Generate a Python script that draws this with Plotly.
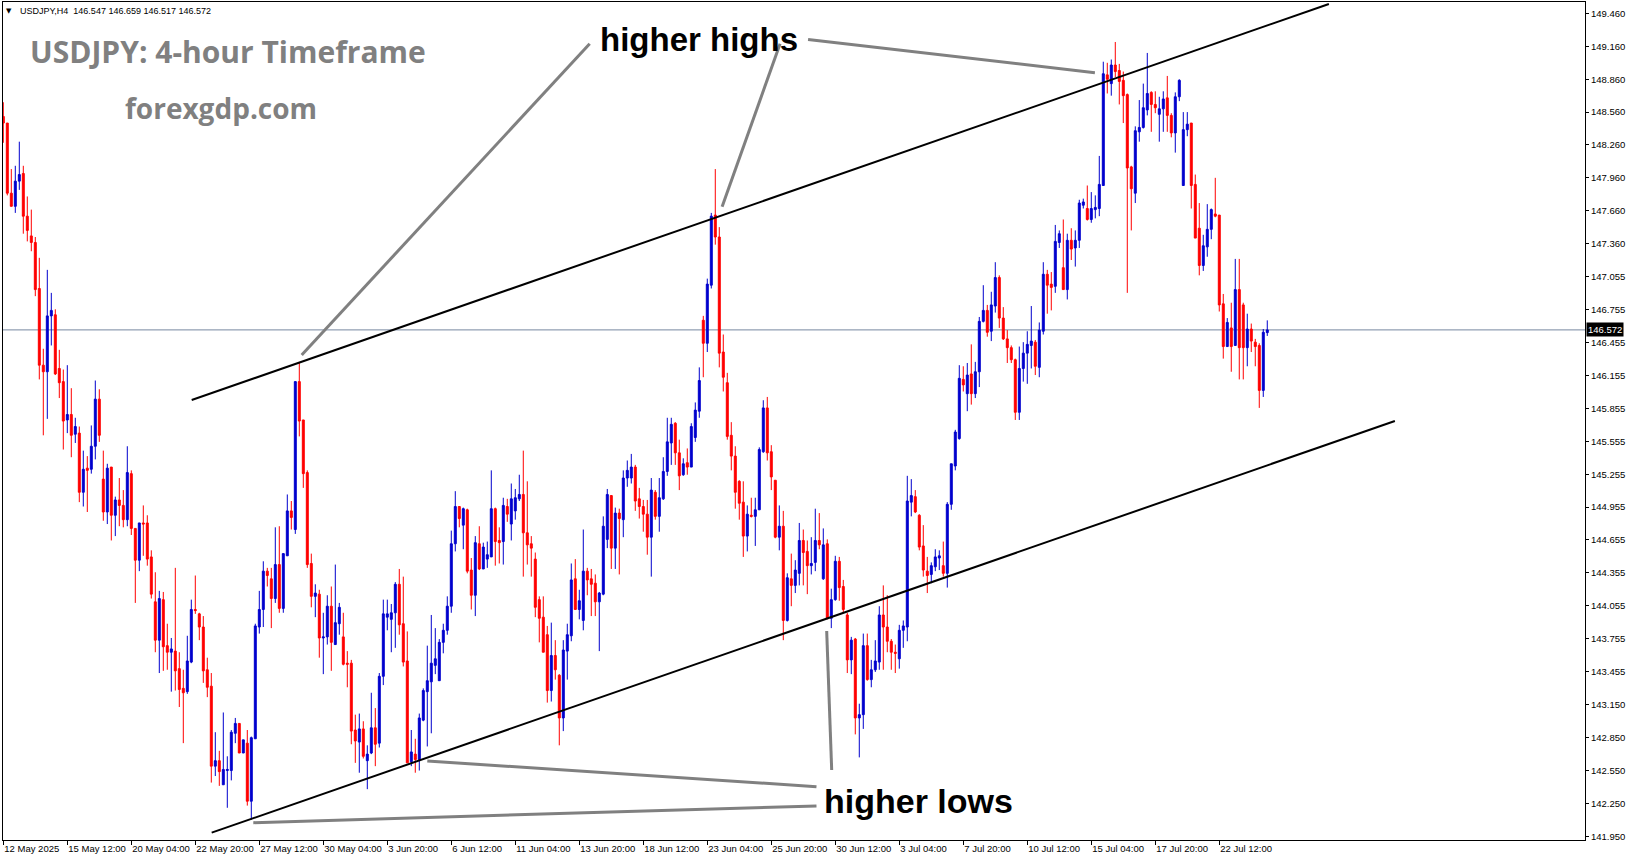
import plotly.graph_objects as go

# ---------------- data (USDJPY H4) ----------------
opens = [
    148.52, 148.46, 147.82, 147.70, 147.93, 148.00, 147.61, 147.43, 147.37, 146.95,
    146.25, 146.19, 146.70, 146.71, 146.22, 146.10, 145.75, 145.80, 145.62, 145.63,
    145.09, 145.31, 145.30, 145.51, 145.94, 145.21, 144.91, 145.32, 144.88, 145.02,
    144.97, 144.84, 145.26, 144.76, 144.47, 144.81, 144.81, 144.50, 144.09, 143.74,
    144.11, 143.69, 143.63, 143.64, 143.48, 143.30, 143.27, 143.54, 144.02, 143.98,
    143.86, 143.47, 143.32, 142.59, 142.64, 142.42, 142.55, 142.55, 142.89, 142.98,
    142.71, 142.80, 142.27, 142.84, 143.86, 144.02, 144.37, 144.30, 144.12, 144.43,
    144.03, 144.51, 144.92, 144.75, 146.10, 145.75, 145.27, 144.44, 144.14, 144.16,
    143.76, 143.77, 144.05, 143.70, 143.89, 143.77, 143.53, 143.53, 142.92, 142.81,
    142.93, 142.64, 142.71, 142.94, 142.80, 143.41, 143.95, 143.93, 143.99, 144.25,
    143.89, 143.55, 142.63, 142.70, 142.65, 143.01, 143.27, 143.36, 143.51, 143.37,
    143.72, 143.83, 144.05, 144.62, 144.96, 144.79, 144.93, 144.38, 144.15, 144.62,
    144.39, 144.48, 144.50, 144.94, 144.65, 144.64, 144.96, 144.80, 144.92, 145.03,
    145.07, 144.72, 144.62, 144.48, 144.11, 143.95, 143.79, 143.28, 143.60, 143.42,
    143.03, 143.64, 143.78, 144.30, 144.02, 143.92, 144.37, 144.30, 144.26, 144.09,
    144.16, 144.66, 145.06, 144.58, 144.90, 144.84, 145.22, 145.22, 145.32, 145.03,
    144.96, 144.89, 144.68, 145.09, 144.87, 145.03, 145.28, 145.54, 145.72, 145.45,
    145.25, 145.36, 145.32, 145.59, 145.83, 146.66, 146.45, 146.98, 147.62, 147.42,
    146.37, 146.09, 145.61, 145.42, 145.19, 145.00, 144.69, 144.88, 144.87, 144.93,
    145.46, 145.86, 145.46, 145.20, 144.68, 144.78, 143.92, 144.30, 144.24, 144.35,
    144.65, 144.55, 144.42, 144.45, 144.65, 144.30, 144.62, 143.94, 144.11, 144.46,
    144.23, 143.97, 143.56, 143.75, 143.03, 143.06, 143.69, 143.38, 143.47, 143.54,
    143.97, 143.86, 143.73, 143.63, 143.57, 143.83, 143.86, 145.00, 145.05, 144.88,
    144.60, 144.37, 144.34, 144.41, 144.49, 144.42, 144.35, 144.98, 145.33, 145.58,
    146.12, 145.99, 146.17, 145.99, 146.19, 146.65, 146.75, 146.56, 146.79, 147.05,
    146.68, 146.49, 146.41, 146.30, 145.82, 146.22, 146.36, 146.43, 146.46, 146.23,
    146.56, 147.08, 146.99, 146.97, 147.37, 147.14, 146.94, 147.39, 147.32, 147.39,
    147.71, 147.68, 147.58, 147.67, 147.68, 147.89, 148.90, 148.82, 148.99, 148.94,
    148.85, 148.72, 148.06, 147.82, 148.38, 148.42, 148.58, 148.74, 148.63, 148.54,
    148.59, 148.69, 148.53, 148.37, 148.70, 147.89, 148.40, 148.46, 147.90, 147.50,
    147.16, 147.33, 147.49, 147.63, 147.62, 146.81, 146.42, 146.59, 146.43, 146.94,
    146.80, 146.41, 146.58, 146.46, 146.43, 146.02, 146.547,
]
highs = [
    148.65, 148.46, 148.04, 148.07, 148.29, 148.07, 147.79, 147.67, 147.42, 147.23,
    146.40, 147.12, 146.91, 146.76, 146.39, 146.21, 146.25, 146.04, 145.77, 145.69,
    145.47, 145.42, 145.70, 146.11, 146.03, 145.47, 145.35, 145.32, 145.05, 145.22,
    145.11, 145.51, 145.29, 144.76, 144.81, 144.97, 144.88, 144.56, 144.36, 144.19,
    144.18, 143.89, 143.76, 144.40, 143.63, 143.47, 143.78, 144.11, 144.33, 143.99,
    143.96, 143.58, 143.44, 142.90, 142.73, 143.08, 142.68, 142.92, 143.03, 142.98,
    142.83, 142.92, 142.86, 143.89, 144.19, 144.46, 144.40, 144.40, 144.77, 144.78,
    144.53, 145.07, 145.01, 146.10, 146.28, 145.75, 145.29, 144.53, 144.25, 144.20,
    143.99, 144.15, 144.23, 144.43, 144.08, 143.99, 143.64, 143.56, 143.06, 143.07,
    143.00, 142.78, 143.26, 143.12, 143.44, 144.11, 144.11, 144.07, 144.27, 144.39,
    144.32, 143.82, 142.92, 142.84, 143.07, 143.30, 143.69, 143.97, 143.85, 143.75,
    143.89, 144.14, 144.74, 145.10, 144.96, 144.95, 144.94, 144.49, 144.69, 144.78,
    144.63, 144.64, 145.29, 144.95, 144.77, 145.04, 145.03, 145.17, 145.12, 145.25,
    145.47, 145.19, 144.69, 144.54, 144.14, 144.14, 143.87, 143.90, 143.74, 143.43,
    143.74, 143.89, 144.44, 144.48, 144.20, 144.75, 144.40, 144.39, 144.34, 144.18,
    144.87, 145.12, 145.06, 144.95, 144.94, 145.29, 145.38, 145.44, 145.34, 145.13,
    145.02, 145.02, 145.22, 145.11, 145.22, 145.41, 145.77, 145.77, 145.73, 145.57,
    145.40, 145.49, 145.72, 145.91, 146.23, 146.70, 147.04, 147.64, 148.04, 147.51,
    146.53, 146.18, 145.73, 145.51, 145.20, 145.19, 144.97, 145.04, 145.04, 145.50,
    145.93, 145.96, 145.52, 145.20, 144.97, 144.92, 144.35, 144.53, 144.47, 144.81,
    144.75, 144.65, 144.68, 144.94, 144.90, 144.76, 144.66, 144.21, 144.51, 144.50,
    144.29, 143.99, 143.77, 143.76, 143.16, 143.80, 143.80, 143.56, 143.74, 144.05,
    144.24, 144.15, 143.75, 143.70, 143.88, 143.92, 145.24, 145.21, 145.11, 144.89,
    144.79, 144.50, 144.45, 144.57, 144.56, 144.64, 145.00, 145.35, 145.66, 146.25,
    146.24, 146.27, 146.44, 146.28, 146.69, 146.98, 146.80, 146.92, 147.19, 147.07,
    146.78, 146.57, 146.43, 146.31, 146.42, 146.46, 146.56, 146.79, 146.48, 146.64,
    147.19, 147.12, 147.10, 147.53, 147.48, 147.58, 147.45, 147.50, 147.48, 147.76,
    147.77, 147.89, 147.83, 147.80, 148.16, 149.02, 149.01, 149.04, 149.20, 149.00,
    148.93, 148.73, 148.07, 148.43, 148.67, 148.82, 149.10, 148.75, 148.75, 148.70,
    148.75, 148.89, 148.55, 148.74, 148.86, 148.56, 148.56, 148.46, 147.99, 147.73,
    147.44, 147.72, 147.68, 147.96, 147.62, 146.90, 146.68, 146.82, 147.22, 147.22,
    146.82, 146.72, 146.63, 146.49, 146.45, 146.58, 146.659,
]
lows = [
    148.28, 147.80, 147.70, 147.64, 147.85, 147.45, 147.38, 147.29, 146.88, 146.12,
    145.61, 145.76, 146.43, 146.16, 145.95, 145.48, 145.63, 145.41, 145.54, 145.00,
    144.96, 144.91, 145.26, 145.39, 145.55, 144.83, 144.80, 144.65, 144.69, 144.78,
    144.77, 144.78, 144.70, 144.08, 144.37, 144.51, 144.42, 144.12, 143.63, 143.44,
    143.46, 143.47, 143.27, 143.28, 143.13, 142.80, 143.25, 143.53, 143.98, 143.74,
    143.35, 143.22, 142.44, 142.50, 142.41, 142.42, 142.21, 142.46, 142.80, 142.71,
    142.71, 142.23, 142.10, 142.84, 143.80, 143.86, 144.23, 143.85, 144.08, 143.99,
    143.99, 144.51, 144.75, 144.71, 145.60, 145.13, 144.40, 144.04, 143.95, 143.58,
    143.43, 143.70, 143.46, 143.70, 143.79, 143.51, 143.31, 142.79, 142.62, 142.53,
    142.66, 142.38, 142.70, 142.59, 142.76, 143.33, 143.83, 143.63, 143.67, 143.79,
    143.50, 142.62, 142.59, 142.53, 142.55, 143.00, 142.77, 142.89, 143.43, 143.37,
    143.62, 143.79, 143.99, 144.55, 144.77, 144.57, 144.35, 144.02, 143.96, 144.38,
    144.39, 144.40, 144.50, 144.42, 144.44, 144.43, 144.82, 144.65, 144.84, 145.01,
    144.32, 144.43, 144.32, 143.95, 143.72, 143.63, 143.17, 143.18, 143.38, 142.78,
    142.91, 143.38, 143.73, 144.02, 143.93, 143.83, 144.15, 143.96, 143.96, 143.64,
    144.15, 144.58, 144.39, 144.39, 144.34, 144.68, 145.14, 145.17, 144.92, 144.85,
    144.73, 144.52, 144.32, 144.84, 144.73, 145.02, 145.24, 145.34, 145.34, 145.11,
    145.24, 145.25, 145.32, 145.55, 145.77, 146.14, 146.37, 146.95, 147.35, 146.23,
    146.01, 145.57, 145.29, 144.94, 144.84, 144.50, 144.55, 144.86, 144.60, 144.93,
    145.45, 145.38, 145.11, 144.67, 144.56, 143.74, 143.91, 144.05, 144.17, 144.24,
    144.24, 144.16, 144.34, 144.37, 144.57, 144.29, 143.93, 143.85, 144.10, 144.10,
    143.99, 143.44, 143.43, 142.88, 142.67, 142.93, 143.37, 143.31, 143.45, 143.47,
    143.47, 143.63, 143.47, 143.44, 143.48, 143.67, 143.73, 144.87, 144.90, 144.56,
    144.32, 144.17, 144.26, 144.37, 144.38, 144.32, 144.22, 144.93, 145.29, 145.57,
    146.01, 145.83, 145.89, 145.95, 146.05, 146.64, 146.51, 146.47, 146.73, 146.59,
    146.48, 146.27, 146.27, 145.75, 145.75, 146.10, 146.08, 146.22, 146.16, 146.14,
    146.53, 146.72, 146.75, 146.91, 147.32, 146.94, 146.85, 147.21, 147.15, 147.32,
    147.68, 147.57, 147.55, 147.59, 147.61, 147.89, 148.73, 148.71, 148.88, 148.63,
    148.46, 146.91, 147.48, 147.73, 148.29, 148.41, 148.53, 148.38, 148.55, 148.29,
    148.38, 148.38, 148.33, 148.19, 148.66, 147.89, 148.34, 147.68, 147.41, 147.07,
    147.11, 147.24, 147.40, 147.60, 146.74, 146.31, 146.42, 146.19, 146.43, 146.12,
    146.12, 146.24, 146.37, 146.24, 145.86, 145.96, 146.517,
]
closes = [
    148.46, 147.82, 147.70, 147.93, 147.99, 147.61, 147.48, 147.37, 146.94, 146.25,
    146.19, 146.70, 146.75, 146.17, 146.09, 145.74, 145.80, 145.61, 145.69, 145.09,
    145.30, 145.29, 145.51, 145.94, 145.61, 144.91, 145.31, 144.88, 145.02, 144.97,
    144.84, 145.27, 144.76, 144.47, 144.81, 144.80, 144.48, 144.16, 143.74, 144.12,
    143.68, 143.63, 143.66, 143.46, 143.29, 143.26, 143.55, 144.02, 144.01, 143.86,
    143.46, 143.31, 142.59, 142.64, 142.54, 142.56, 142.56, 142.90, 142.98, 142.71,
    142.83, 142.27, 142.85, 143.87, 144.02, 144.37, 144.33, 144.12, 144.43, 144.03,
    144.53, 144.92, 144.86, 146.10, 145.74, 145.26, 144.43, 144.14, 144.17, 143.76,
    143.77, 144.05, 143.72, 143.90, 144.04, 143.52, 143.52, 142.91, 142.82, 142.93,
    142.68, 142.70, 142.94, 142.79, 143.41, 143.98, 143.98, 143.99, 144.25, 143.88,
    143.54, 142.62, 142.72, 142.65, 143.03, 143.28, 143.37, 143.53, 143.57, 143.72,
    143.83, 144.05, 144.62, 144.96, 144.85, 144.94, 144.37, 144.15, 144.63, 144.39,
    144.59, 144.52, 144.94, 144.64, 144.63, 144.97, 144.89, 145.03, 145.04, 145.07,
    144.72, 144.61, 144.58, 144.04, 143.94, 143.63, 143.28, 143.60, 143.47, 143.03,
    143.65, 143.79, 144.29, 144.02, 144.10, 144.37, 144.29, 144.25, 144.09, 144.17,
    144.78, 145.07, 144.58, 144.90, 144.85, 145.22, 145.29, 145.32, 145.01, 144.96,
    144.89, 144.68, 145.11, 144.87, 145.04, 145.28, 145.55, 145.71, 145.45, 145.24,
    145.35, 145.32, 145.69, 145.84, 146.11, 146.45, 146.99, 147.61, 147.42, 146.36,
    146.14, 145.60, 145.42, 145.09, 144.99, 144.69, 144.89, 144.87, 144.93, 145.48,
    145.86, 145.45, 145.23, 144.68, 144.78, 143.92, 144.31, 144.24, 144.38, 144.65,
    144.54, 144.42, 144.44, 144.65, 144.61, 144.61, 143.94, 144.11, 144.46, 144.22,
    144.02, 143.56, 143.74, 143.03, 143.06, 143.69, 143.38, 143.47, 143.55, 143.97,
    143.86, 143.73, 143.63, 143.62, 143.83, 143.87, 145.01, 145.06, 144.91, 144.59,
    144.38, 144.33, 144.42, 144.50, 144.51, 144.35, 144.98, 145.35, 145.64, 146.13,
    146.07, 146.16, 145.99, 146.19, 146.65, 146.75, 146.55, 146.80, 147.05, 146.68,
    146.49, 146.41, 146.30, 145.82, 146.22, 146.36, 146.44, 146.47, 146.24, 146.57,
    147.08, 146.98, 146.96, 147.38, 147.45, 146.94, 147.39, 147.31, 147.39, 147.73,
    147.74, 147.58, 147.68, 147.69, 147.90, 148.91, 148.86, 148.99, 148.93, 148.84,
    148.71, 148.05, 147.86, 148.39, 148.42, 148.60, 148.73, 148.63, 148.60, 148.59,
    148.68, 148.53, 148.37, 148.70, 148.85, 148.40, 148.45, 147.89, 147.41, 147.16,
    147.34, 147.49, 147.67, 147.61, 146.80, 146.42, 146.64, 146.42, 146.94, 146.41,
    146.41, 146.58, 146.47, 146.42, 146.02, 146.55, 146.572,
]
bar_index = list(range(len(opens)))

x_tick_bars = list(range(0, 320, 16))
x_tick_labels = [
    "12 May 2025", "15 May 12:00", "20 May 04:00", "22 May 20:00", "27 May 12:00",
    "30 May 04:00", "3 Jun 20:00", "6 Jun 12:00", "11 Jun 04:00", "13 Jun 20:00",
    "18 Jun 12:00", "23 Jun 04:00", "25 Jun 20:00", "30 Jun 12:00", "3 Jul 04:00",
    "7 Jul 20:00", "10 Jul 12:00", "15 Jul 04:00", "17 Jul 20:00", "22 Jul 12:00",
]
price_ticks = [
    149.460, 149.160, 148.860, 148.560, 148.260, 147.960, 147.660, 147.360, 147.055,
    146.755, 146.455, 146.155, 145.855, 145.555, 145.255, 144.955, 144.655, 144.355,
    144.055, 143.755, 143.455, 143.150, 142.850, 142.550, 142.250, 141.950,
]
last_price = 146.572
header_values = "146.547 146.659 146.517 146.572"

# channel lines (bar index, price)
upper_channel_x = [47.1, 331.4]
upper_channel_y = [145.932, 149.547]
lower_channel_x = [52.1, 347.9]
lower_channel_y = [141.983, 145.741]

# annotation pointer lines (bar index, price)
pointer_x = [[146.6, 74.6], [194.2, 179.7], [201.2, 272.9],
             [106.0, 203.3], [62.5, 203.3], [205.85, 207.1]]
pointer_y = [[149.184, 146.343], [149.184, 147.697], [149.223, 148.920],
             [142.637, 142.403], [142.074, 142.227], [143.824, 142.555]]

# ---------------- figure ----------------
BLUE = "#0000CD"
RED = "#FF0000"

fig = go.Figure()
fig.add_trace(go.Candlestick(
    x=bar_index, open=opens, high=highs, low=lows, close=closes,
    increasing=dict(line=dict(color=BLUE, width=1), fillcolor=BLUE),
    decreasing=dict(line=dict(color=RED, width=1), fillcolor=RED),
    whiskerwidth=0, showlegend=False, hoverinfo="skip",
))

shapes = []
shapes.append(dict(type="line", xref="paper", yref="y", x0=0, x1=1,
                   y0=last_price, y1=last_price,
                   line=dict(color="#7788A0", width=1), layer="below"))
for xs, ys in ((upper_channel_x, upper_channel_y), (lower_channel_x, lower_channel_y)):
    shapes.append(dict(type="line", xref="x", yref="y", x0=xs[0], x1=xs[1],
                       y0=ys[0], y1=ys[1], line=dict(color="black", width=2)))
for xs, ys in zip(pointer_x, pointer_y):
    shapes.append(dict(type="line", xref="x", yref="y", x0=xs[0], x1=xs[1],
                       y0=ys[0], y1=ys[1], line=dict(color="#808080", width=3)))

annotations = [
    dict(text="<b>USDJPY: 4-hour Timeframe</b>", xref="paper", yref="paper",
         x=0.1422, y=0.9409, xanchor="center", yanchor="middle", showarrow=False,
         font=dict(family="Open Sans", size=30, color="#808080")),
    dict(text="<b>forexgdp.com</b>", xref="paper", yref="paper",
         x=0.1375, y=0.8735, xanchor="center", yanchor="middle", showarrow=False,
         font=dict(family="Open Sans", size=28, color="#808080")),
    dict(text="<b>higher highs</b>", xref="paper", yref="paper",
         x=0.440, y=0.9552, xanchor="center", yanchor="middle", showarrow=False,
         font=dict(family="Liberation Sans", size=33, color="black")),
    dict(text="<b>higher lows</b>", xref="paper", yref="paper",
         x=0.5787, y=0.0465, xanchor="center", yanchor="middle", showarrow=False,
         font=dict(family="Liberation Sans", size=34, color="black")),
    dict(text="\u25BC", xref="paper", yref="paper", x=0.0041, y=0.9893,
         xanchor="center", yanchor="middle", showarrow=False,
         font=dict(family="DejaVu Sans", size=7, color="black")),
    dict(text="USDJPY,H4\u00a0\u00a0" + header_values, xref="paper", yref="paper",
         x=0.0097, y=0.9893, xanchor="left", yanchor="middle", showarrow=False,
         font=dict(family="Liberation Sans", size=9, color="black")),
    dict(text=f"{last_price:.3f}", xref="paper", yref="y", x=1, y=last_price,
         xanchor="left", yanchor="middle", xshift=1, showarrow=False,
         bgcolor="black", borderpad=1,
         font=dict(family="Liberation Sans", size=9.5, color="white")),
]

fig.update_layout(
    template="none",
    width=1631, height=861,
    margin=dict(l=3, r=46, t=2, b=21, pad=0),
    paper_bgcolor="white", plot_bgcolor="white",
    boxgap=0.3, boxgroupgap=0.3,
    hovermode=False, showlegend=False,
    shapes=shapes, annotations=annotations,
    xaxis=dict(
        range=[-0.075, 395.43], rangeslider=dict(visible=False),
        showgrid=False, zeroline=False, showline=True, linecolor="black",
        linewidth=1, mirror=True, ticks="outside", ticklen=4, tickcolor="black",
        tickvals=x_tick_bars, ticktext=x_tick_labels, tickangle=0,
        ticklabelposition="outside right", automargin=False,
        tickfont=dict(family="Liberation Sans", size=9.5, color="black"),
    ),
    yaxis=dict(
        side="right", range=[141.916, 149.565],
        showgrid=False, zeroline=False, showline=True, linecolor="black",
        linewidth=1, mirror=True, ticks="outside", ticklen=3, tickcolor="black",
        tickvals=price_ticks, ticktext=[f"{p:.3f}" for p in price_ticks],
        automargin=False,
        tickfont=dict(family="Liberation Sans", size=9.5, color="black"),
    ),
)

fig.write_html(
    "out.html",
    config={"displayModeBar": False},
    post_script="document.body.style.margin='0';document.body.style.overflow='hidden';",
)
